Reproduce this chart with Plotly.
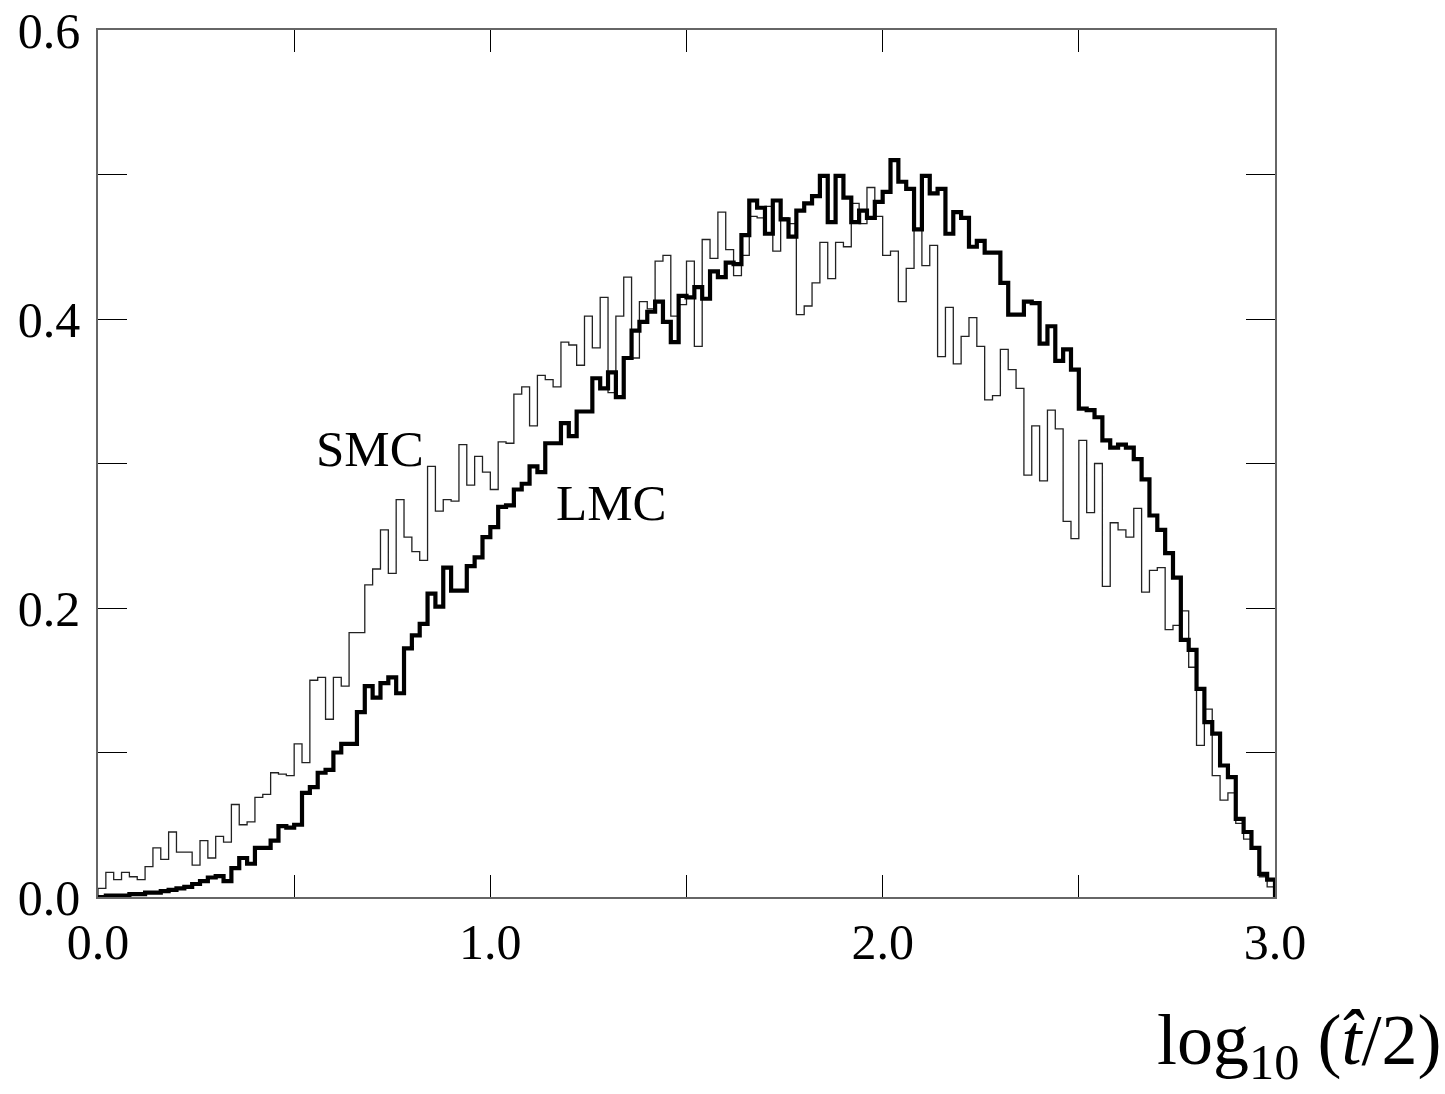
import numpy as np
import plotly.graph_objects as go

# Histogram: 150 bins of width 0.02 over log10(t/2) in [0, 3]
x_min, x_max, n_bins = 0.0, 3.0, 150

smc = [0.006, 0.017, 0.012, 0.017, 0.014, 0.012, 0.021, 0.034, 0.026, 0.045,
       0.031, 0.031, 0.022, 0.039, 0.027, 0.042, 0.038, 0.064, 0.050, 0.052,
       0.069, 0.071, 0.086, 0.085, 0.084, 0.106, 0.093, 0.150, 0.152, 0.123,
       0.152, 0.146, 0.183, 0.183, 0.216, 0.227, 0.254, 0.224, 0.275, 0.249,
       0.239, 0.233, 0.298, 0.267, 0.275, 0.274, 0.313, 0.285, 0.305, 0.294,
       0.282, 0.315, 0.314, 0.348, 0.353, 0.326, 0.361, 0.358, 0.353, 0.384,
       0.382, 0.368, 0.402, 0.380, 0.415, 0.349, 0.402, 0.429, 0.373, 0.412,
       0.407, 0.440, 0.444, 0.402, 0.410, 0.440, 0.381, 0.455, 0.442, 0.474,
       0.448, 0.430, 0.444, 0.471, 0.470, 0.478, 0.447, 0.470, 0.466, 0.403,
       0.409, 0.425, 0.453, 0.428, 0.453, 0.450, 0.480, 0.466, 0.491, 0.471,
       0.444, 0.447, 0.412, 0.435, 0.462, 0.437, 0.451, 0.374, 0.408, 0.369,
       0.388, 0.401, 0.381, 0.344, 0.347, 0.379, 0.365, 0.352, 0.292, 0.326,
       0.288, 0.337, 0.324, 0.260, 0.248, 0.316, 0.266, 0.300, 0.215, 0.259,
       0.254, 0.249, 0.269, 0.211, 0.226, 0.228, 0.185, 0.188, 0.198, 0.159,
       0.105, 0.130, 0.084, 0.067, 0.072, 0.051, 0.040, 0.034, 0.014, 0.007]

lmc = [0.000, 0.001, 0.001, 0.001, 0.002, 0.002, 0.003, 0.003, 0.004, 0.005,
       0.006, 0.007, 0.009, 0.011, 0.0135, 0.0145, 0.011, 0.020, 0.027, 0.023,
       0.034, 0.034, 0.039, 0.049, 0.048, 0.050, 0.072, 0.076, 0.086, 0.088,
       0.100, 0.106, 0.106, 0.128, 0.146, 0.138, 0.148, 0.152, 0.141, 0.172,
       0.181, 0.189, 0.210, 0.201, 0.228, 0.212, 0.212, 0.229, 0.235, 0.249,
       0.256, 0.270, 0.271, 0.282, 0.286, 0.298, 0.294, 0.314, 0.314, 0.328,
       0.319, 0.336, 0.336, 0.359, 0.352, 0.363, 0.346, 0.373, 0.392, 0.398,
       0.405, 0.412, 0.398, 0.384, 0.416, 0.415, 0.422, 0.414, 0.433, 0.429,
       0.439, 0.438, 0.458, 0.482, 0.477, 0.459, 0.482, 0.469, 0.457, 0.475,
       0.480, 0.485, 0.499, 0.467, 0.499, 0.484, 0.467, 0.475, 0.470, 0.481,
       0.488, 0.510, 0.495, 0.490, 0.462, 0.499, 0.487, 0.490, 0.459, 0.474,
       0.470, 0.450, 0.454, 0.446, 0.446, 0.425, 0.403, 0.403, 0.412, 0.411,
       0.383, 0.395, 0.371, 0.379, 0.365, 0.338, 0.337, 0.332, 0.316, 0.311,
       0.313, 0.311, 0.303, 0.289, 0.264, 0.254, 0.238, 0.221, 0.178, 0.171,
       0.144, 0.121, 0.113, 0.091, 0.083, 0.054, 0.045, 0.034, 0.016, 0.012]

y_major_ticks = [0.0, 0.2, 0.4, 0.6]
y_major_text = ["0.0", "0.2", "0.4", "0.6"]
x_major_ticks = [0.0, 1.0, 2.0, 3.0]
x_major_text = ["0.0", "1.0", "2.0", "3.0"]

edges = np.linspace(x_min, x_max, n_bins + 1)


def step_xy(vals):
    xs = [x_min] + list(edges) + [x_max]
    ys = [0.0] + list(vals) + [vals[-1], 0.0]
    return xs, ys


FONT = "Liberation Serif, Times New Roman, serif"

fig = go.Figure()
xs, ys = step_xy(smc)
fig.add_trace(go.Scatter(x=xs, y=ys, mode="lines", line_shape="hv",
                         line=dict(color="#222222", width=1.3), name="SMC",
                         showlegend=False))
xs, ys = step_xy(lmc)
fig.add_trace(go.Scatter(x=xs, y=ys, mode="lines", line_shape="hv",
                         line=dict(color="#000000", width=4.2), name="LMC",
                         showlegend=False))

fig.add_annotation(x=0.693, y=0.31, text="SMC", showarrow=False,
                   font=dict(family=FONT, size=51, color="#000"))
fig.add_annotation(x=1.308, y=0.273, text="LMC", showarrow=False,
                   font=dict(family=FONT, size=51, color="#000"))
fig.add_annotation(xref="paper", yref="paper", x=1.143, y=-0.117,
                   xanchor="right", yanchor="top",
                   text="log<sub>10</sub> (<i>t\u0302</i>/2)", showarrow=False,
                   font=dict(family=FONT, size=72, color="#000"))

fig.update_layout(
    width=1445, height=1094,
    margin=dict(l=98, r=170, t=30, b=197),
    paper_bgcolor="white", plot_bgcolor="white",
    font=dict(family=FONT, size=50, color="#000"),
)
fig.update_xaxes(range=[x_min, x_max], tickvals=x_major_ticks, ticktext=x_major_text,
                 ticks="inside", ticklen=22, tickwidth=1.3, tickcolor="#000",
                 minor=dict(dtick=0.5, ticks="inside", ticklen=22, tickwidth=1.3,
                            tickcolor="#000", showgrid=False),
                 showline=True, linecolor="#666", linewidth=1.5, mirror="ticks",
                 showgrid=False, zeroline=False, ticklabelstandoff=0,
                 automargin=False)
fig.update_yaxes(range=[0, 0.6], tickvals=y_major_ticks, ticktext=y_major_text,
                 ticks="inside", ticklen=29, tickwidth=1.3, tickcolor="#000",
                 minor=dict(dtick=0.1, ticks="inside", ticklen=29, tickwidth=1.3,
                            tickcolor="#000", showgrid=False),
                 showline=True, linecolor="#666", linewidth=1.5, mirror="ticks",
                 showgrid=False, zeroline=False, ticklabelstandoff=6,
                 automargin=False)

fig.write_html("out.html")
